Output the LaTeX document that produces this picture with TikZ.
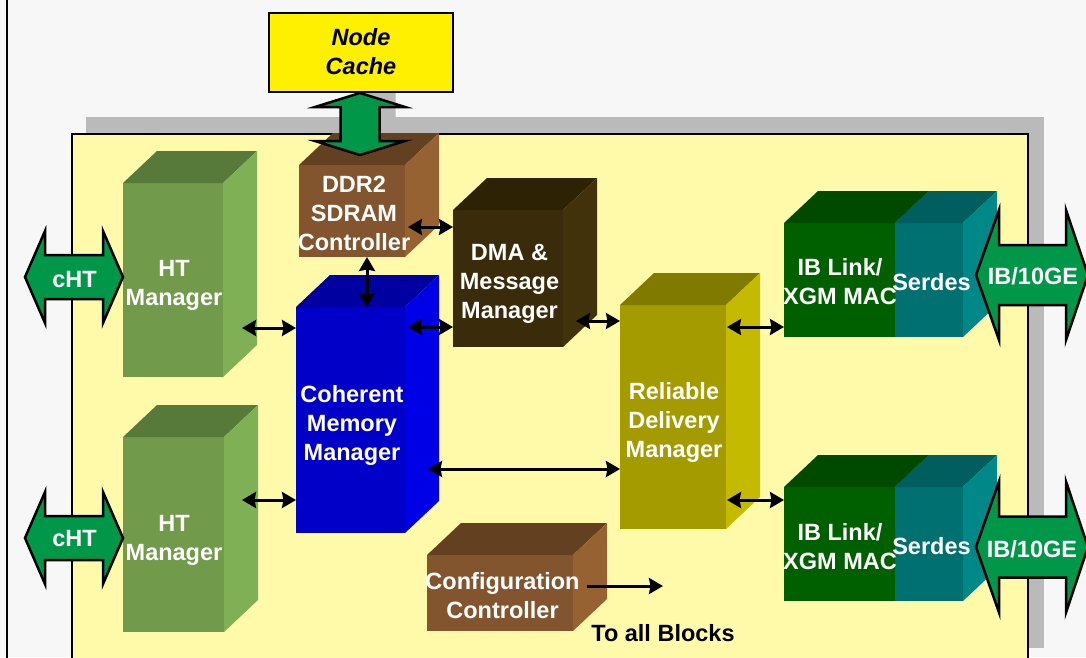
\documentclass[tikz,border=0pt]{standalone}
\usepackage{fontspec}
\setmainfont{Liberation Sans}
\usetikzlibrary{arrows.meta,calc}
\pgfdeclarelayer{back}
\pgfdeclarelayer{bg}
\pgfsetlayers{back,bg,main}
\definecolor{bgc}{HTML}{F7F7F7}
\definecolor{shadowc}{HTML}{BABABA}
\definecolor{boardc}{HTML}{FFFAAA}
\definecolor{ncyellow}{HTML}{FFF000}
\definecolor{agreen}{HTML}{009848}
\definecolor{htF}{HTML}{719B4A}\definecolor{htT}{HTML}{577A3A}\definecolor{htS}{HTML}{80B055}
\definecolor{ddrF}{HTML}{83552E}\definecolor{ddrT}{HTML}{634120}\definecolor{ddrS}{HTML}{966232}
\definecolor{cmmF}{HTML}{0000C8}\definecolor{cmmT}{HTML}{0000A0}\definecolor{cmmS}{HTML}{0000E6}
\definecolor{dmaF}{HTML}{3A2B0A}\definecolor{dmaT}{HTML}{2E2205}\definecolor{dmaS}{HTML}{42320C}
\definecolor{rdmF}{HTML}{A39B00}\definecolor{rdmT}{HTML}{807A00}\definecolor{rdmS}{HTML}{C4BA00}
\definecolor{ibF}{HTML}{006000}\definecolor{ibT}{HTML}{004A00}\definecolor{ibS}{HTML}{006000}
\definecolor{srF}{HTML}{007070}\definecolor{srT}{HTML}{005E5E}\definecolor{srS}{HTML}{008888}
% name, x, y, w, h, colour prefix, text, text x, text y
\newcommand\blockcube[9]{%
  \begin{pgfonlayer}{bg}
    \node[fill=#6F, minimum width=#4pt, minimum height=#5pt, anchor=north west,
          inner sep=0pt, outer sep=0pt] (#1) at (#2,#3) {};
    \fill[#6T] (#1.north west) -- ++(34,-32) -- ++(#4,0) -- (#1.north east) -- cycle;
    \fill[#6S] (#1.north east) -- ++(34,-32) -- ++(0,#5) -- (#1.south east) -- cycle;
  \end{pgfonlayer}
  \node[blocktext] (#1-t) at (#8,#9) {#7};}
\begin{document}
\begin{tikzpicture}[x=1pt,y=-1pt,
  blocktext/.style={font=\fontsize{23.5}{29}\selectfont\bfseries, text=white, align=center, inner sep=0pt},
  darktext/.style={font=\fontsize{23.5}{29}\selectfont\bfseries, text=black, align=center, inner sep=0pt},
  bigarrow/.style={fill=agreen, draw=black, line width=2.5pt, line join=miter},
  tipk/.tip={Stealth[length=14pt,width=16pt,inset=1.5pt]},
  dbl/.style={line width=3pt, tipk-tipk},
  sgl/.style={line width=3pt, -tipk}]
\useasboundingbox (0,0) rectangle (1086,657);
\begin{pgfonlayer}{back}
  \fill[bgc] (0,0) rectangle (1086,657);
  \draw[line width=2pt] (7,-5) -- (7,665);
  \fill[shadowc] (86,117) rectangle (1044,648);
  \fill[shadowc, shift={(16,-16)}] (360,93) -- (405,107) -- (379.5,107) -- (379.5,141) -- (405,141)
     -- (360,155) -- (315,141) -- (340.5,141) -- (340.5,107) -- (315,107) -- cycle;
  \fill[boardc] (72,134) rectangle (1028,670);
  \draw[line width=2.5pt] (72,670) -- (72,134) -- (1028,134) -- (1028,670);
\end{pgfonlayer}
% blocks
\blockcube{ht1}{123}{183}{100}{194}{ht}{\strut HT\\\strut Manager}{174}{285}
\blockcube{ht2}{123}{437}{101}{195}{ht}{\strut HT\\\strut Manager}{174}{540.3}
\blockcube{ddr}{299}{165}{106}{92}{ddr}{\strut DDR2\\\strut SDRAM\\\strut Controller}{354}{216}
\blockcube{cmm}{296}{307}{109}{226}{cmm}{\strut Coherent\\\strut Memory\\\strut Manager}{352}{426}
\blockcube{dma}{453}{210}{110}{137}{dma}{\strut DMA \&\\\strut Message\\\strut Manager}{509.5}{284}
\blockcube{rdm}{620}{305}{106}{224}{rdm}{\strut Reliable\\\strut Delivery\\\strut Manager}{674}{423}
\blockcube{ib1}{784}{223}{111}{114}{ib}{\strut IB Link/\\\strut XGM MAC}{840}{284.6}
\blockcube{sr1}{895}{223}{68}{114}{sr}{\strut Serdes}{931.5}{284.6}
\blockcube{ib2}{784}{487}{111}{114}{ib}{\strut IB Link/\\\strut XGM MAC}{840}{549.6}
\blockcube{sr2}{895}{487}{68}{114}{sr}{\strut Serdes}{931.5}{549}
\blockcube{cfg}{427}{555}{146}{76}{ddr}{\strut Configuration\\\strut Controller}{502.5}{597.8}
% node cache
\node[draw, line width=2pt, fill=ncyellow, minimum width=184pt, minimum height=79pt,
      anchor=north west, inner sep=0pt] (nc) at (268,12) {};
\node[darktext, font=\fontsize{23.5}{29}\selectfont\bfseries\itshape] (nc-t) at (361,54.3) {\strut Node\\\strut Cache};
% node cache <-> DDR2 big arrow
\draw[bigarrow] (360,93) -- (405,107) -- (379.5,107) -- (379.5,141) -- (405,141)
   -- (360,155) -- (315,141) -- (340.5,141) -- (340.5,107) -- (315,107) -- cycle;
% cHT arrows
\draw[bigarrow] (25,277) -- (45,231) -- (45,255) -- (103,255) -- (103,231) -- (123,277)
   -- (103,323) -- (103,299) -- (45,299) -- (45,323) -- cycle;
\node[blocktext] (cht1) at (74.5,282) {\strut cHT};
\draw[bigarrow] (25,538) -- (45,492) -- (45,516) -- (103,516) -- (103,492) -- (123,538)
   -- (103,584) -- (103,560) -- (45,560) -- (45,584) -- cycle;
\node[blocktext] (cht2) at (74.5,540.6) {\strut cHT};
% IB/10GE arrows
\draw[bigarrow] (976,275) -- (999,210) -- (999,245) -- (1066,245) -- (1066,210) -- (1088,275)
   -- (1066,340) -- (1066,305) -- (999,305) -- (999,340) -- cycle;
\node[blocktext] (ibx1) at (1033,278.6) {\strut IB/10GE};
\draw[bigarrow] (976,547) -- (999,481.5) -- (999,516.5) -- (1066,516.5) -- (1066,481.5) -- (1088,547)
   -- (1066,612.5) -- (1066,577.5) -- (999,577.5) -- (999,612.5) -- cycle;
\node[blocktext] (ibx2) at (1032,552) {\strut IB/10GE};
% black connectors
\coordinate (e1) at (408,227);
\draw[dbl] (e1) -- (dma.west |- e1);
\coordinate (e2) at (367,0);
\draw[dbl] (ddr.south -| e2) -- (cmm.north -| e2);
\coordinate (e3) at (242,328);
\draw[dbl] (e3) -- (cmm.west |- e3);
\coordinate (e4) at (408,327);
\draw[dbl] (e4) -- (dma.west |- e4);
\coordinate (e5) at (576,321);
\draw[dbl] (e5) -- (rdm.west |- e5);
\coordinate (e6) at (727,327);
\draw[dbl] (e6) -- (ib1.west |- e6);
\coordinate (e7) at (428,469);
\draw[dbl] (e7) -- (rdm.west |- e7);
\coordinate (e8) at (242,500);
\draw[dbl] (e8) -- (cmm.west |- e8);
\coordinate (e9) at (727,500);
\draw[dbl] (e9) -- (ib2.west |- e9);
\coordinate (e10s) at (587,586);
\coordinate (e10) at (663,586);
\draw[sgl] (e10s) -- (e10);
\node[darktext] (toall) at (663,636) {\strut To all Blocks};
\end{tikzpicture}
\end{document}
